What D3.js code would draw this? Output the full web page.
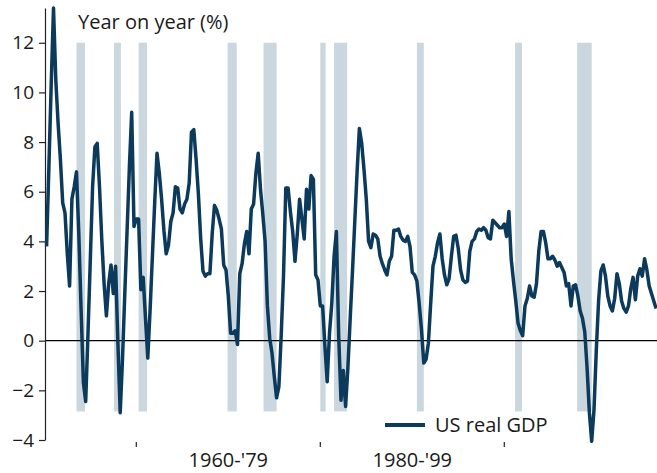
<!DOCTYPE html>
<html>
<head>
<meta charset="utf-8">
<script src="https://cdn.jsdelivr.net/npm/d3@7"></script>
<style>
    body { margin: 0; background: #fff; }
    text { font-family: "Open Sans", "Noto Sans", sans-serif; fill: #1a1a1a; }
</style>
</head>
<body>
<div id="chart"></div>
<script>
// US real GDP, % change on a year earlier, quarterly from 1950Q1
let firstYear = 1950;
let gdpYoY = [
    3.8, 7.0, 10.3, 13.4,     // 1950
    10.5, 8.75, 7.3, 5.55,    // 1951
    5.15, 3.5, 2.2, 5.7,      // 1952
    6.2, 6.8, 4.3, 1.25,      // 1953
    -1.7, -2.45, 0.3, 3.25,   // 1954
    6.2, 7.8, 7.95, 6.2,      // 1955
    4.05, 2.3, 1.0, 2.3,      // 1956
    3.05, 1.9, 3.0, -0.1,     // 1957
    -2.9, -0.75, 1.9, 4.45,   // 1958
    7.0, 9.2, 4.6, 4.9,       // 1959
    4.9, 2.05, 2.55, 0.9,     // 1960
    -0.7, 1.25, 3.4, 5.55,    // 1961
    7.55, 6.75, 5.7, 4.45,    // 1962
    3.5, 3.85, 4.8, 5.15,     // 1963
    6.2, 6.15, 5.3, 5.15,     // 1964
    5.5, 5.7, 6.35, 8.4,      // 1965
    8.5, 7.3, 5.9, 4.1,       // 1966
    2.8, 2.6, 2.7, 2.7,       // 1967
    4.3, 5.45, 5.25, 4.9,     // 1968
    4.5, 3.05, 2.85, 1.8,     // 1969
    0.3, 0.3, 0.4, -0.15,     // 1970
    2.7, 3.1, 3.9, 4.4,       // 1971
    3.5, 5.3, 5.5, 6.75,      // 1972
    7.55, 6.1, 5.1, 4.0,      // 1973
    1.4, 0.1, -0.5, -1.45,    // 1974
    -2.3, -1.85, 0.2, 2.6,    // 1975
    6.15, 6.15, 5.2, 4.4,     // 1976
    3.2, 4.3, 5.7, 4.9,       // 1977
    4.1, 6.1, 5.3, 6.65,      // 1978
    6.5, 2.65, 2.45, 1.4,     // 1979
    1.4, -0.2, -1.65, 0.3,    // 1980
    1.5, 3.4, 4.4, 0.2,       // 1981
    -2.4, -1.2, -2.65, -1.1,  // 1982
    0.9, 2.8, 4.8, 6.8,       // 1983
    8.55, 7.95, 6.9, 5.7,     // 1984
    4.0, 3.75, 4.3, 4.25,     // 1985
    4.1, 3.4, 3.1, 2.85,      // 1986
    2.65, 3.2, 3.4, 4.45,     // 1987
    4.45, 4.5, 4.2, 4.05,     // 1988
    4.0, 4.2, 3.8, 2.75,      // 1989
    2.65, 2.4, 1.5, 0.45,     // 1990
    -0.9, -0.75, -0.1, 1.5,   // 1991
    3.0, 3.4, 3.95, 4.3,      // 1992
    3.3, 2.65, 2.25, 2.5,     // 1993
    3.4, 4.2, 4.25, 3.7,      // 1994
    2.85, 2.45, 2.35, 2.4,    // 1995
    3.6, 4.0, 4.1, 4.4,       // 1996
    4.5, 4.45, 4.55, 4.45,    // 1997
    4.15, 4.1, 4.85, 4.75,    // 1998
    4.65, 4.55, 4.55, 4.7,    // 1999
    4.2, 5.2, 3.3, 2.4,       // 2000
    1.6, 0.7, 0.4, 0.2,       // 2001
    1.4, 1.7, 2.2, 1.8,       // 2002
    1.75, 2.3, 3.6, 4.4,      // 2003
    4.4, 3.95, 3.3, 3.3,      // 2004
    3.4, 3.25, 3.0, 3.15,     // 2005
    2.95, 2.75, 2.2, 2.3,     // 2006
    1.4, 2.2, 2.25, 1.8,      // 2007
    1.2, 0.9, 0.35, -1.1,     // 2008
    -2.9, -4.05, -2.8, -0.4,  // 2009
    1.6, 2.8, 3.05, 2.6,      // 2010
    1.8, 1.4, 1.2, 1.7,       // 2011
    2.7, 2.3, 1.6, 1.3,       // 2012
    1.15, 1.4, 2.1, 2.55,     // 2013
    1.65, 2.6, 2.9, 2.6,      // 2014
    3.3, 2.85, 2.2, 1.9,      // 2015
    1.6, 1.3                  // 2016
];

// NBER recessions, [start, end] as decimal years
let recessions = [
    [1953.5, 1954.42], [1957.58, 1958.33], [1960.25, 1961.17],
    [1969.92, 1970.92], [1973.83, 1975.25], [1980.0, 1980.58],
    [1981.5, 1982.92], [1990.5, 1991.25], [2001.17, 2001.92],
    [2007.92, 2009.5]
];

let yTicks = [-4, -2, 0, 2, 4, 6, 8, 10, 12];
let xTicks = [1960, 1980, 2000];
let periodLabels = [
    {from: 1960, to: 1980, text: "1960-'79"},
    {from: 1980, to: 2000, text: "1980-'99"}
];
let seriesName = "US real GDP";
let yTitle = "Year on year (%)";

let width = 657, height = 473;
let lineColor = "#0b3a5c";
let shadeColor = "#cbd7de";

let svg = d3.select("#chart")
    .append("svg")
    .attr("width", width)
    .attr("height", height);

// Scales
let x = d3.scaleLinear()
    .domain([1950, 2016.6])
    .range([44.3, 657]);

let y = d3.scaleLinear()
    .domain([-4, 13.4])
    .range([440, 8]);

let data = gdpYoY.map(function (v, i) {
    return {date: firstYear + (i + 1) / 4, value: v};
});

// Recession shading
svg.append("g")
    .selectAll("rect")
    .data(recessions)
    .enter()
    .append("rect")
    .attr("x", function (d) { return x(d[0]); })
    .attr("width", function (d) { return x(d[1]) - x(d[0]); })
    .attr("y", y(12))
    .attr("height", y(-2.85) - y(12))
    .attr("fill", shadeColor);

// Zero line
svg.append("line")
    .attr("x1", 45)
    .attr("x2", width)
    .attr("y1", y(0))
    .attr("y2", y(0))
    .attr("stroke", "#000")
    .attr("stroke-width", 1.2);

// Y axis
let yAxis = svg.append("g")
    .attr("transform", "translate(45,0)")
    .call(d3.axisLeft(y).tickValues(yTicks).tickSize(6).tickPadding(5).tickSizeOuter(0));
yAxis.select(".domain").attr("stroke", "#222").attr("stroke-width", 1.2);
yAxis.selectAll(".tick line").attr("stroke", "#222").attr("stroke-width", 1.2);
yAxis.selectAll("text")
    .style("font-family", "'Open Sans', sans-serif")
    .style("font-size", "19px")
    .attr("fill", "#1a1a1a");

// X ticks (no axis line)
svg.append("g")
    .selectAll("line")
    .data(xTicks)
    .enter()
    .append("line")
    .attr("x1", function (d) { return x(d); })
    .attr("x2", function (d) { return x(d); })
    .attr("y1", 442)
    .attr("y2", 447)
    .attr("stroke", "#222")
    .attr("stroke-width", 1.2);

svg.append("g")
    .selectAll("text")
    .data(periodLabels)
    .enter()
    .append("text")
    .attr("x", function (d) { return (x(d.from) + x(d.to)) / 2; })
    .attr("y", 467)
    .attr("text-anchor", "middle")
    .style("font-size", "20px")
    .text(function (d) { return d.text; });

// Y title
svg.append("text")
    .attr("x", 78)
    .attr("y", 29)
    .style("font-size", "20px")
    .text(yTitle);

// GDP line
let line = d3.line()
    .x(function (d) { return x(d.date); })
    .y(function (d) { return y(d.value); });

svg.append("path")
    .datum(data)
    .attr("fill", "none")
    .attr("stroke", lineColor)
    .attr("stroke-width", 3.5)
    .attr("stroke-linejoin", "round")
    .attr("d", line);

// Legend
let legend = svg.append("g")
    .attr("transform", "translate(385,425)");

legend.append("line")
    .attr("x1", 0)
    .attr("x2", 40)
    .attr("stroke", lineColor)
    .attr("stroke-width", 4);

legend.append("text")
    .attr("x", 50)
    .attr("y", 7)
    .style("font-size", "20px")
    .text(seriesName);
</script>
</body>
</html>
